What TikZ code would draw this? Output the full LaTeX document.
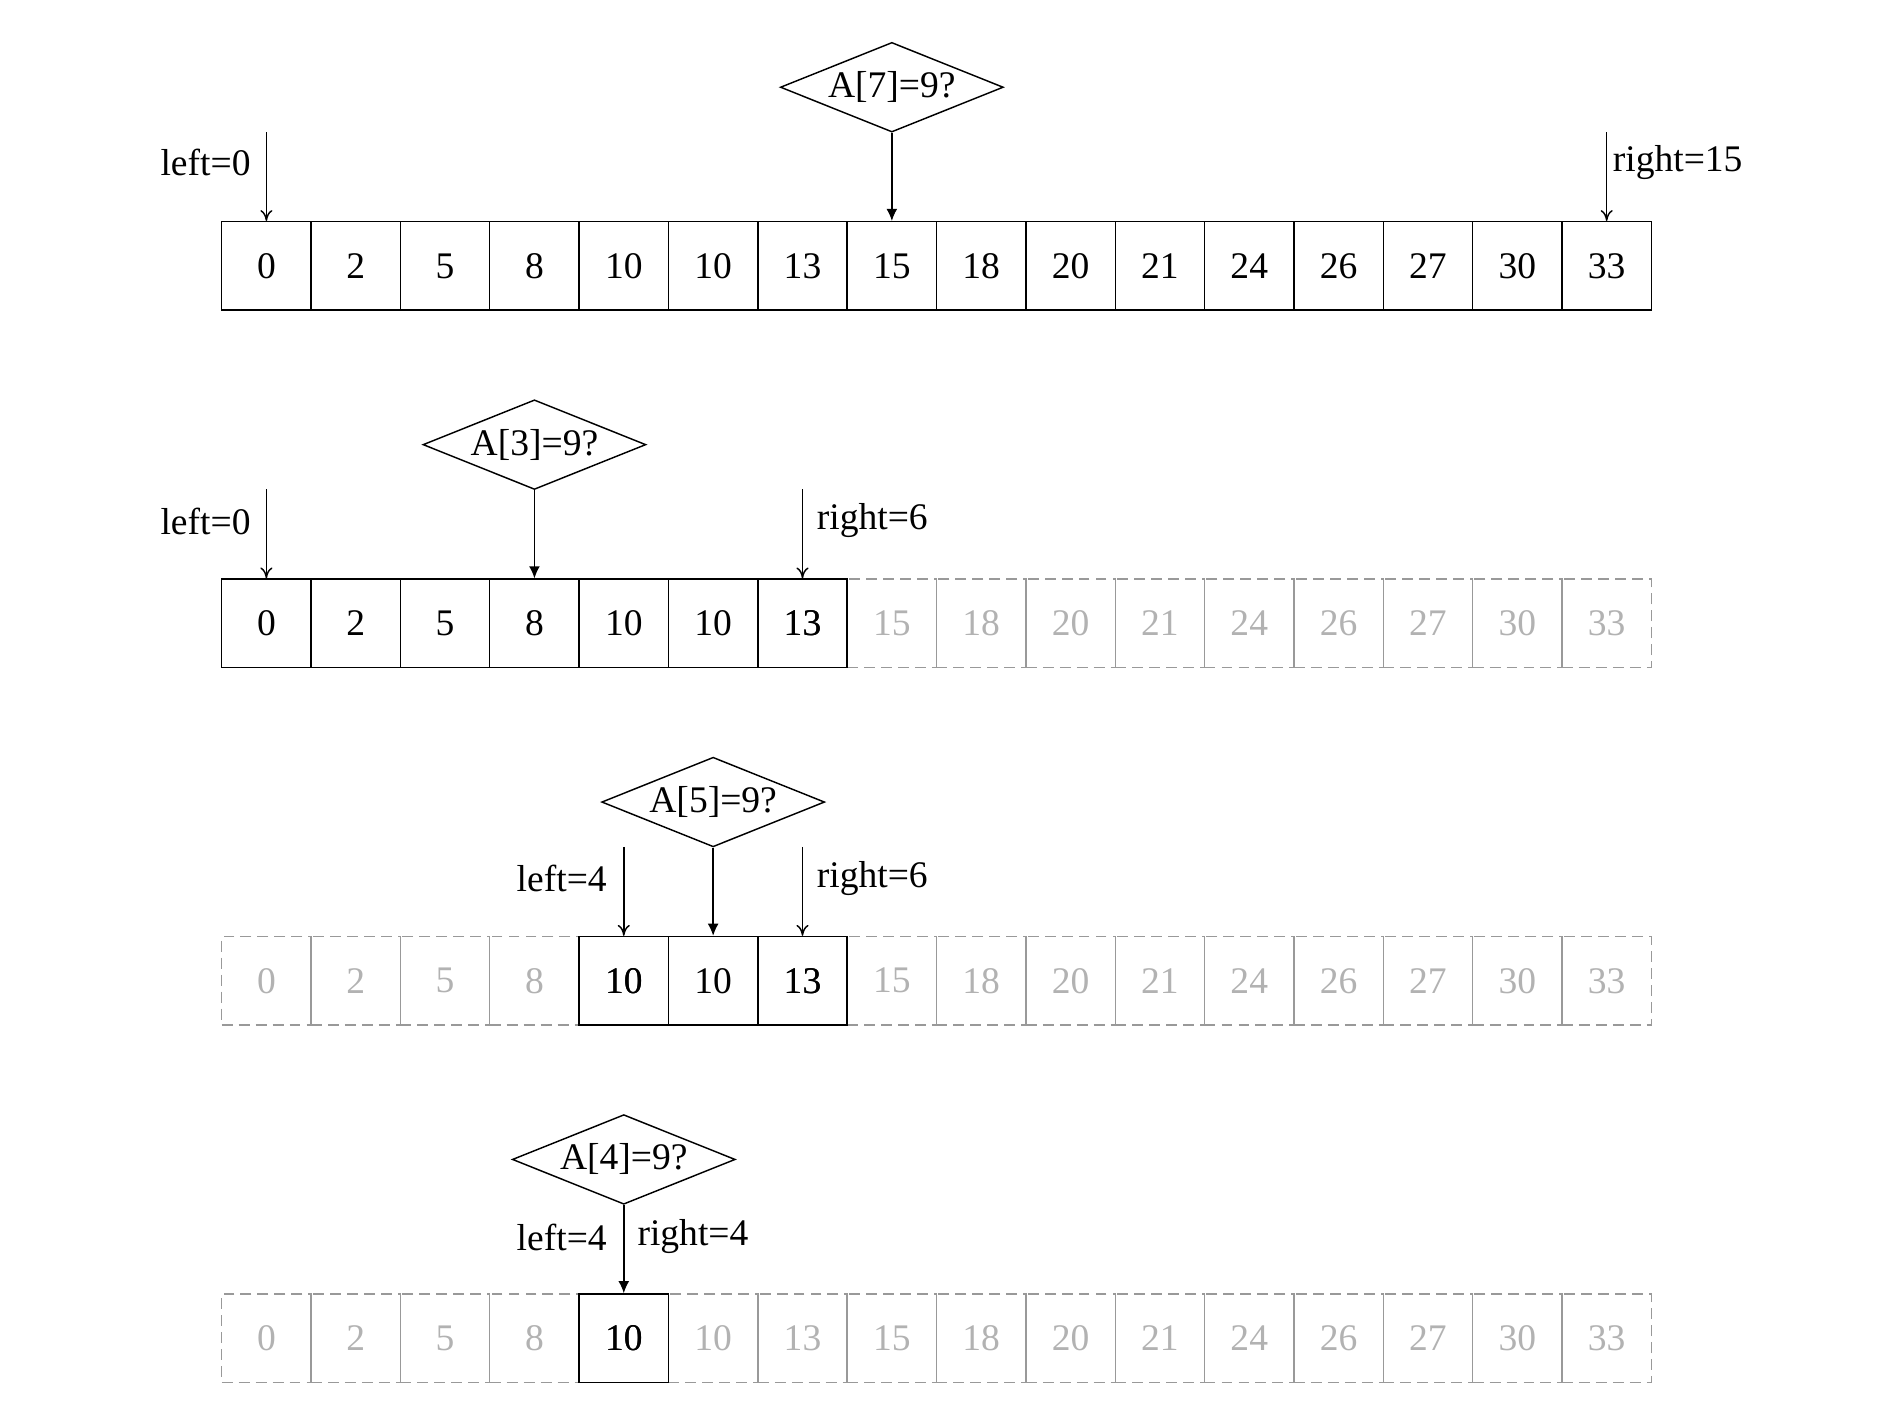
\documentclass[tikz,border=0pt]{standalone}
\usepackage{fontspec}
\setmainfont{Liberation Serif}
\usetikzlibrary{shapes.geometric,arrows.meta}
\begin{document}
\begin{tikzpicture}[x=1pt,y=-1pt,
  cell/.style={draw,line width=1.2pt,minimum width=73.75pt,minimum height=73pt,inner sep=0pt,font=\fontsize{31}{31}\selectfont},
  ghost/.style={draw=black!40,dashed,dash pattern=on 9pt off 5pt,line width=1.2pt,minimum width=73.75pt,minimum height=73pt,inner sep=0pt,text=black!30,font=\fontsize{31}{31}\selectfont},
  dia/.style={diamond,draw,line width=1.2pt,aspect=2.5,minimum width=184pt,minimum height=74pt,inner sep=0pt,font=\fontsize{31}{31}\selectfont},
  lbl/.style={font=\fontsize{31}{31}\selectfont,inner sep=2pt},
  ptr/.style={-{To[length=9pt,width=10pt]},line width=1.2pt},
  mid/.style={-{Latex[length=10pt,width=9pt]},line width=1.2pt}]
\useasboundingbox (0,0) rectangle (1560,1170);
\def\vals{0,2,5,8,10,10,13,15,18,20,21,24,26,27,30,33}
% row 1
\foreach \v [count=\i from 0] in \vals {\node[cell] (a\i) at ({183+73.75*(\i+0.5)},219.5) {\v};}
% row 2
\foreach \v [count=\i from 0] in \vals {\ifnum\i<7 \node[cell] (b\i) at ({183+73.75*(\i+0.5)},514.5) {\v};\else\node[ghost] (b\i) at ({183+73.75*(\i+0.5)},514.5) {\v};\fi}
% row 3
\foreach \v [count=\i from 0] in \vals {\ifnum\i<4 \node[ghost] (c\i) at ({183+73.75*(\i+0.5)},809.5) {\v};\else\ifnum\i<7 \node[cell] (c\i) at ({183+73.75*(\i+0.5)},809.5) {\v};\else\node[ghost] (c\i) at ({183+73.75*(\i+0.5)},809.5) {\v};\fi\fi}
% row 4
\foreach \v [count=\i from 0] in \vals {\ifnum\i=4 \node[cell] (d\i) at ({183+73.75*(\i+0.5)},1104.5) {\v};\else\node[ghost] (d\i) at ({183+73.75*(\i+0.5)},1104.5) {\v};\fi}
\node[cell] at (d4) {10};
\node[cell] at (c4) {10};\node[cell] at (c6) {13};\node[cell] at (b6) {13};
% diamonds
\node[dia] (q1) at (a7|-0,72) {A[7]=9?};
\node[dia] (q2) at (b3|-0,367) {A[3]=9?};
\node[dia] (q3) at (c5|-0,662) {A[5]=9?};
\node[dia] (q4) at (d4|-0,957) {A[4]=9?};
\draw[mid] (q1.south) -- (a7.north);
\draw[mid] (q2.south) -- (b3.north);
\draw[mid] (q3.south) -- (c5.north);
\draw[mid] (q4.south) -- (d4.north);
% pointers
\coordinate (p1) at (a0|-0,109); \coordinate (p2) at (a15|-0,109);
\coordinate (p3) at (b0|-0,404); \coordinate (p4) at (b6|-0,404);
\coordinate (p5) at (c4|-0,699); \coordinate (p6) at (c6|-0,699);
\draw[ptr] (p1) -- (a0.north); \draw[ptr] (p2) -- (a15.north);
\draw[ptr] (p3) -- (b0.north); \draw[ptr] (p4) -- (b6.north);
\draw[ptr] (p5) -- (c4.north); \draw[ptr] (p6) -- (c6.north);
\node[lbl,anchor=east] (l1) at (209,134) {left=0};
\node[lbl,anchor=west] (r1) at (1329,134) {right=15};
\node[lbl,anchor=east] (l2) at (209,430) {left=0};
\node[lbl,anchor=west] (r2) at (672,430) {right=6};
\node[lbl,anchor=east] (l3) at (503,725) {left=4};
\node[lbl,anchor=west] (r3) at (672,725) {right=6};
\node[lbl,anchor=east] (l4) at (503,1021) {left=4};
\node[lbl,anchor=west] (r4) at (524,1021) {right=4};
\end{tikzpicture}
\end{document}
